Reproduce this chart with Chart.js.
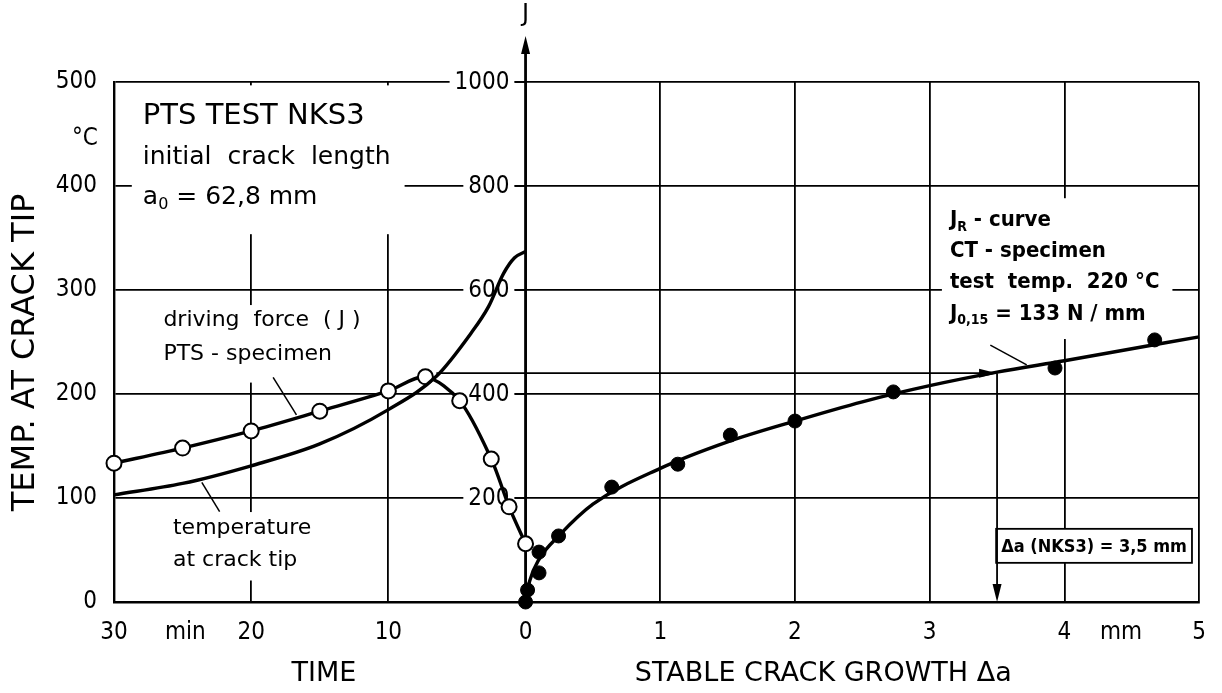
<!DOCTYPE html>
<html>
<head>
<meta charset="utf-8">
<title>PTS test NKS3</title>
<script src="https://cdn.jsdelivr.net/npm/chart.js@4.4.1/dist/chart.umd.min.js"></script>
<style>
  html, body { margin: 0; padding: 0; background: #fff; }
</style>
</head>
<body>
<canvas id="myChart" width="1222" height="693"></canvas>
<script>
// one horizontal scale: time (min) left of zero, stable crack growth (mm) right of it
const MIN_PER_MM = 9.82;

// driving force J, PTS specimen (open circles)
const dfTime = [30, 25, 20, 15, 10, 7.3, 4.8, 2.5, 1.2, 0];
const dfJ = [267, 296, 329, 367, 406, 433, 387, 275, 183, 112];

// temperature at crack tip
const tpTime = [30, 25, 20, 15, 10, 6.5, 4, 2.7, 1.6, 0.8, 0];
const tpC = [103, 114, 131, 152, 185, 217, 258, 284, 316, 331, 337];

// JR curve, CT specimen: measured points and drawn curve
const jrDa = [0, 0.015, 0.1, 0.1, 0.245, 0.64, 1.13, 1.52, 2.0, 2.73, 3.93, 4.67];
const jrJ = [0, 23, 56, 96, 127, 221, 265, 321, 348, 404, 450, 504];
const fitDa = [0, 0.03, 0.1, 0.25, 0.5, 1.0, 1.5, 2.0, 2.5, 3.0, 3.5, 4.0, 4.5, 5.0];
const fitJ = [0, 40, 82, 128, 188, 257, 308, 348, 385, 416, 442, 464, 487, 510];

// read-off: peak driving force -> JR curve -> crack growth
const jCrit = 440;
const tCrit = 6.5;
const daCrit = 3.5;

// ticks
const timeTicks = [30, 24.8, 20, 10, 0];
const timeTickLabels = ['30', 'min', '20', '10', '0'];
const daTicks = [1, 2, 3, 4, 4.42, 5];
const daTickLabels = ['1', '2', '3', '4', 'mm', '5'];
const jTicks = [200, 400, 600, 800, 1000];

const fromMin = t => -t / MIN_PER_MM;
const xTickVals = timeTicks.map(fromMin).concat(daTicks);
const xTickLabels = timeTickLabels.concat(daTickLabels);

const FONT_N = '"DejaVu Sans Condensed", "DejaVu Sans", sans-serif';
const FONT_W = '"DejaVu Sans", sans-serif';

// text blocks inside the plot (white background hides the grid)
const noteBlocks = [
  { u: fromMin(27.9), pad: [11, 15, 14, 23], lines: [
    { T: 467, size: 29, fam: FONT_W, runs: [['PTS TEST NKS3']] },
    { T: 427, size: 25, fam: FONT_W, runs: [['initial  crack  length']] },
    { T: 389, size: 25, fam: FONT_W, runs: [['a'], ['0', true], [' = 62,8 mm']] }
  ]},
  { u: fromMin(26.4), pad: [4, 3, 4, 16], lines: [
    { T: 271, size: 22, fam: FONT_W, runs: [['driving  force  ( J )']] },
    { T: 238, size: 22, fam: FONT_W, runs: [['PTS - specimen']] }
  ]},
  { u: fromMin(25.7), pad: [4, 4, 4, 8], lines: [
    { T: 71, size: 22, fam: FONT_W, runs: [['temperature']] },
    { T: 40, size: 22, fam: FONT_W, runs: [['at crack tip']] }
  ]},
  { u: 3.15, pad: [8, 10, 13, 13], lines: [
    { T: 367, size: 22, fam: FONT_N, weight: 'bold', runs: [['J'], ['R', true], [' - curve']] },
    { T: 337, size: 22, fam: FONT_N, weight: 'bold', runs: [['CT - specimen']] },
    { T: 307, size: 22, fam: FONT_N, weight: 'bold', runs: [['test  temp.  220 °C']] },
    { T: 277, size: 22, fam: FONT_N, weight: 'bold', runs: [['J'], ['0,15', true], [' = 133 N / mm']] }
  ]}
];
const frameNote = { u: 4.22, T: 54, size: 18, runs: [['Δa (NKS3) = 3,5 mm']] };

// leader lines [u1, T1, u2, T2]
const leaders = [
  [fromMin(18.4), 216, fromMin(16.7), 180],
  [fromMin(23.6), 115, fromMin(22.3), 87],
  [3.45, 247, 3.72, 228]
];

function setFont(ctx, size, fam, weight) {
  ctx.font = (weight || 'normal') + ' ' + size + 'px ' + fam;
}

function runsWidth(ctx, runs, size, fam, weight) {
  let w = 0;
  runs.forEach(([s, sub]) => {
    setFont(ctx, sub ? Math.round(size * 0.62) : size, fam, weight);
    w += ctx.measureText(s).width;
  });
  return w;
}

function drawRuns(ctx, runs, x, y, size, fam, weight) {
  ctx.textAlign = 'left';
  ctx.textBaseline = 'middle';
  runs.forEach(([s, sub]) => {
    setFont(ctx, sub ? Math.round(size * 0.62) : size, fam, weight);
    ctx.fillText(s, x, sub ? y + size * 0.3 : y);
    x += ctx.measureText(s).width;
  });
}

function arrowHead(ctx, x, y, dx, dy) {
  // tip at (x, y), pointing along (dx, dy)
  const len = 18, half = 4.5;
  ctx.beginPath();
  ctx.moveTo(x, y);
  ctx.lineTo(x - dx * len - dy * half, y - dy * len + dx * half);
  ctx.lineTo(x - dx * len + dy * half, y - dy * len - dx * half);
  ctx.closePath();
  ctx.fill();
}

const decor = {
  id: 'decor',
  beforeDatasetsDraw(chart) {
    const { ctx, chartArea: a, scales: { x, y, yJ } } = chart;
    ctx.save();
    ctx.fillStyle = '#000';

    // text blocks
    noteBlocks.forEach(b => {
      const x0 = x.getPixelForValue(b.u);
      let l = Infinity, r = -Infinity, t = Infinity, bt = -Infinity;
      b.lines.forEach(ln => {
        const yy = y.getPixelForValue(ln.T);
        const w = runsWidth(ctx, ln.runs, ln.size, ln.fam, ln.weight);
        l = Math.min(l, x0); r = Math.max(r, x0 + w);
        t = Math.min(t, yy - ln.size * 0.55); bt = Math.max(bt, yy + ln.size * 0.55);
      });
      ctx.fillStyle = '#fff';
      ctx.fillRect(l - b.pad[0], t - b.pad[1], r - l + b.pad[0] + b.pad[2], bt - t + b.pad[1] + b.pad[3]);
      ctx.fillStyle = '#000';
      b.lines.forEach(ln => drawRuns(ctx, ln.runs, x0, y.getPixelForValue(ln.T), ln.size, ln.fam, ln.weight));
    });

    // framed note
    {
      const cx = x.getPixelForValue(frameNote.u), cy = y.getPixelForValue(frameNote.T);
      const w = runsWidth(ctx, frameNote.runs, frameNote.size, FONT_N, 'bold');
      const bx = cx - w / 2 - 5, by = cy - 17, bw = w + 10, bh = 34;
      ctx.fillStyle = '#fff';
      ctx.fillRect(bx, by, bw, bh);
      ctx.strokeStyle = '#000';
      ctx.lineWidth = 1.8;
      ctx.strokeRect(bx, by, bw, bh);
      ctx.fillStyle = '#000';
      drawRuns(ctx, frameNote.runs, cx - w / 2, cy + 1, frameNote.size, FONT_N, 'bold');
    }

    // J axis in the middle
    const xc = x.getPixelForValue(0);
    setFont(ctx, 24, FONT_N);
    ctx.textAlign = 'right';
    ctx.textBaseline = 'middle';
    jTicks.forEach(v => {
      const yy = yJ.getPixelForValue(v);
      const w = ctx.measureText(String(v)).width;
      ctx.fillStyle = '#fff';
      ctx.fillRect(xc - 16 - w - 5, yy - 13, w + 10, 26);
      ctx.fillStyle = '#000';
      ctx.fillText(String(v), xc - 16, yy + 1);
      ctx.fillRect(xc - 11, yy - 0.9, 11, 1.8);
    });
    ctx.strokeStyle = '#000';
    ctx.lineWidth = 2.8;
    ctx.beginPath();
    ctx.moveTo(xc, a.bottom);
    ctx.lineTo(xc, a.top - 40);
    ctx.stroke();
    arrowHead(ctx, xc, a.top - 46, 0, -1);
    setFont(ctx, 24, FONT_W);
    ctx.textAlign = 'center';
    ctx.fillText('J', xc, 15);

    // outer labels
    setFont(ctx, 24, FONT_N);
    ctx.fillText('°C', a.left - 29, y.getPixelForValue(445));
    setFont(ctx, 27, FONT_W);
    ctx.fillText('TIME', x.getPixelForValue(fromMin(14.7)), a.bottom + 72);
    ctx.fillText('STABLE CRACK GROWTH Δa', x.getPixelForValue(2.21), a.bottom + 72);
    ctx.translate(26, y.getPixelForValue(240));
    ctx.rotate(-Math.PI / 2);
    setFont(ctx, 32, FONT_W);
    ctx.fillText('TEMP. AT CRACK TIP', 0, 0);
    ctx.restore();
  },
  afterDatasetsDraw(chart) {
    const { ctx, chartArea: a, scales: { x, y, yJ } } = chart;
    ctx.save();
    ctx.strokeStyle = '#000';
    ctx.fillStyle = '#000';
    ctx.lineWidth = 1.8;
    const yc = yJ.getPixelForValue(jCrit);
    const x1 = x.getPixelForValue(fromMin(tCrit));
    const x2 = x.getPixelForValue(daCrit);
    ctx.beginPath();
    ctx.moveTo(x1, yc); ctx.lineTo(x2 - 4, yc);
    ctx.moveTo(x2, yc); ctx.lineTo(x2, a.bottom - 4);
    ctx.stroke();
    arrowHead(ctx, x2, yc, 1, 0);
    arrowHead(ctx, x2, a.bottom, 0, 1);
    ctx.lineWidth = 1.5;
    leaders.forEach(([u1, t1, u2, t2]) => {
      ctx.beginPath();
      ctx.moveTo(x.getPixelForValue(u1), y.getPixelForValue(t1));
      ctx.lineTo(x.getPixelForValue(u2), y.getPixelForValue(t2));
      ctx.stroke();
    });
    ctx.restore();
  }
};

const toPts = (xs, ys, fx) => xs.map((v, i) => ({ x: fx ? fx(v) : v, y: ys[i] }));

const ctx = document.getElementById('myChart').getContext('2d');
const myChart = new Chart(ctx, {
  type: 'line',
  data: {
    datasets: [
      {
        label: 'temperature at crack tip',
        data: toPts(tpTime, tpC, fromMin),
        yAxisID: 'y',
        borderColor: '#000',
        borderWidth: 3.4,
        pointRadius: 0,
        cubicInterpolationMode: 'monotone',
        clip: false
      },
      {
        label: 'driving force (J) PTS - specimen',
        data: toPts(dfTime, dfJ, fromMin),
        yAxisID: 'yJ',
        borderColor: '#000',
        borderWidth: 3.4,
        tension: 0.3,
        pointRadius: 7.5,
        pointBackgroundColor: '#fff',
        pointBorderColor: '#000',
        pointBorderWidth: 2,
        clip: false
      },
      {
        label: 'JR - curve',
        data: toPts(fitDa, fitJ),
        yAxisID: 'yJ',
        borderColor: '#000',
        borderWidth: 3.4,
        pointRadius: 0,
        cubicInterpolationMode: 'monotone',
        clip: false
      },
      {
        label: 'CT - specimen',
        data: toPts(jrDa, jrJ),
        yAxisID: 'yJ',
        showLine: false,
        pointRadius: 7,
        pointBackgroundColor: '#000',
        pointBorderColor: '#000',
        clip: false
      }
    ]
  },
  options: {
    responsive: false,
    animation: false,
    devicePixelRatio: 1,
    events: [],
    layout: { padding: { top: 82, right: 19, left: 0, bottom: 0 } },
    plugins: { legend: { display: false }, tooltip: { enabled: false } },
    scales: {
      x: {
        type: 'linear',
        min: fromMin(30),
        max: 5,
        afterFit(s) { s.height = 91; },
        afterBuildTicks(s) { s.ticks = xTickVals.map(v => ({ value: v })); },
        ticks: {
          autoSkip: false,
          maxRotation: 0,
          padding: 16,
          color: '#000',
          font: { family: FONT_N, size: 24 },
          callback: (v, i) => xTickLabels[i]
        },
        grid: {
          drawTicks: false,
          lineWidth: 1.8,
          color: c => (c.tick && (xTickLabels[c.index] === 'min' || xTickLabels[c.index] === 'mm')) ? 'rgba(0,0,0,0)' : '#000'
        },
        border: { color: '#000', width: 2.4 }
      },
      y: {
        min: 0,
        max: 500,
        afterFit(s) { s.width = 114; },
        ticks: {
          stepSize: 100,
          padding: 17,
          color: '#000',
          font: { family: FONT_N, size: 24 }
        },
        grid: { drawTicks: false, lineWidth: 1.8, color: '#000' },
        border: { color: '#000', width: 2.4 }
      },
      yJ: { min: 0, max: 1000, display: false }
    }
  },
  plugins: [decor]
});
</script>
</body>
</html>
